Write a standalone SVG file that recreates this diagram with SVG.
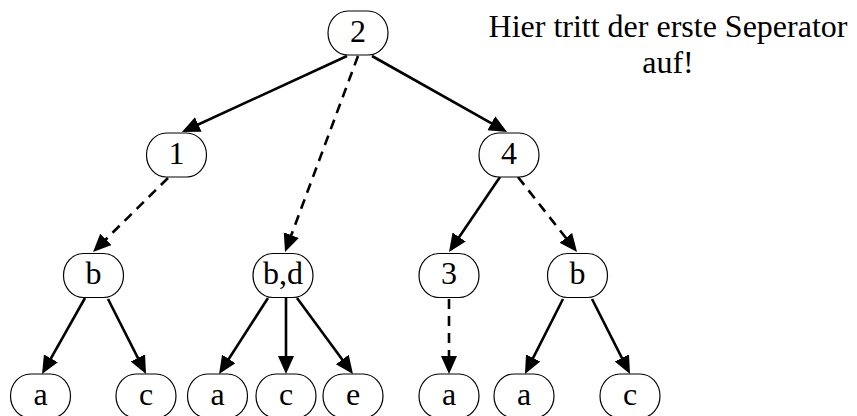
<svg xmlns="http://www.w3.org/2000/svg" width="857" height="416" viewBox="0 0 857 416">
<style>
.node rect{fill:#fff;stroke:#000;stroke-width:1.2}
.node text,.note{font-family:"Liberation Serif","Times New Roman",serif;font-size:32px;fill:#000;text-anchor:middle}
.edge{stroke:#000;stroke-width:2.6;fill:none;marker-end:url(#ah)}
.dash{stroke-dasharray:10 7}
</style>
<defs>
<marker id="ah" markerUnits="userSpaceOnUse" markerWidth="20" markerHeight="18" refX="12" refY="8" orient="auto">
<path d="M0,0 L18,8 L0,16 z" fill="#000" stroke="none"/>
</marker>
</defs>
<rect width="857" height="416" fill="#fff"/>
<g id="connectors">
<line class="edge" x1="347" y1="56" x2="187.4" y2="129.5"/>
<line class="edge dash" x1="358" y1="56" x2="287.1" y2="246.4"/>
<line class="edge" x1="372" y1="56" x2="501.8" y2="129.1"/>
<line class="edge dash" x1="168" y1="178" x2="97.3" y2="247.8"/>
<line class="edge" x1="500" y1="177" x2="452.4" y2="247"/>
<line class="edge dash" x1="518" y1="177" x2="573.3" y2="247.3"/>
<line class="edge" x1="85" y1="298" x2="45" y2="368.8"/>
<line class="edge" x1="108" y1="299" x2="143.3" y2="368.6"/>
<line class="edge" x1="268" y1="298" x2="222.3" y2="369"/>
<line class="edge" x1="286" y1="298" x2="286" y2="368"/>
<line class="edge" x1="297" y1="298" x2="349.4" y2="369.2"/>
<line class="edge dash" x1="449" y1="299" x2="449" y2="368"/>
<line class="edge" x1="563" y1="299" x2="527.7" y2="368.6"/>
<line class="edge" x1="592" y1="299" x2="627.3" y2="368.6"/>
</g>
<g id="n2" class="node"><rect x="328" y="11" width="60" height="44" rx="20" ry="22"/><text x="358" y="42">2</text></g>
<g id="n1" class="node"><rect x="146.5" y="133" width="60" height="44" rx="20" ry="22"/><text x="176.5" y="164">1</text></g>
<g id="n4" class="node"><rect x="479" y="133" width="60" height="44" rx="20" ry="22"/><text x="509" y="164">4</text></g>
<g id="nb1" class="node"><rect x="63.5" y="253.5" width="60" height="44" rx="20" ry="22"/><text x="93.5" y="284">b</text></g>
<g id="nbd" class="node"><rect x="253" y="253.5" width="60" height="44" rx="20" ry="22"/><text x="283" y="284">b,d</text></g>
<g id="n3" class="node"><rect x="419" y="253.5" width="60" height="44" rx="20" ry="22"/><text x="449" y="284">3</text></g>
<g id="nb2" class="node"><rect x="547.5" y="253.5" width="60" height="44" rx="20" ry="22"/><text x="577.5" y="284">b</text></g>
<g id="na1" class="node"><rect x="10.5" y="374" width="60" height="44" rx="20" ry="22"/><text x="40.5" y="405">a</text></g>
<g id="nc1" class="node"><rect x="116" y="374" width="60" height="44" rx="20" ry="22"/><text x="146" y="405">c</text></g>
<g id="na2" class="node"><rect x="187.5" y="374" width="60" height="44" rx="20" ry="22"/><text x="217.5" y="405">a</text></g>
<g id="nc2" class="node"><rect x="256" y="374" width="60" height="44" rx="20" ry="22"/><text x="286" y="405">c</text></g>
<g id="ne" class="node"><rect x="323" y="374" width="60" height="44" rx="20" ry="22"/><text x="353" y="405">e</text></g>
<g id="na3" class="node"><rect x="419" y="374" width="60" height="44" rx="20" ry="22"/><text x="449" y="405">a</text></g>
<g id="na4" class="node"><rect x="494" y="374" width="60" height="44" rx="20" ry="22"/><text x="524" y="405">a</text></g>
<g id="nc4" class="node"><rect x="600" y="374" width="60" height="44" rx="20" ry="22"/><text x="630" y="405">c</text></g>
<g id="note">
<text class="note" x="668" y="37">Hier tritt der erste Seperator</text>
<text class="note" x="668" y="73">auf!</text>
</g>
</svg>
